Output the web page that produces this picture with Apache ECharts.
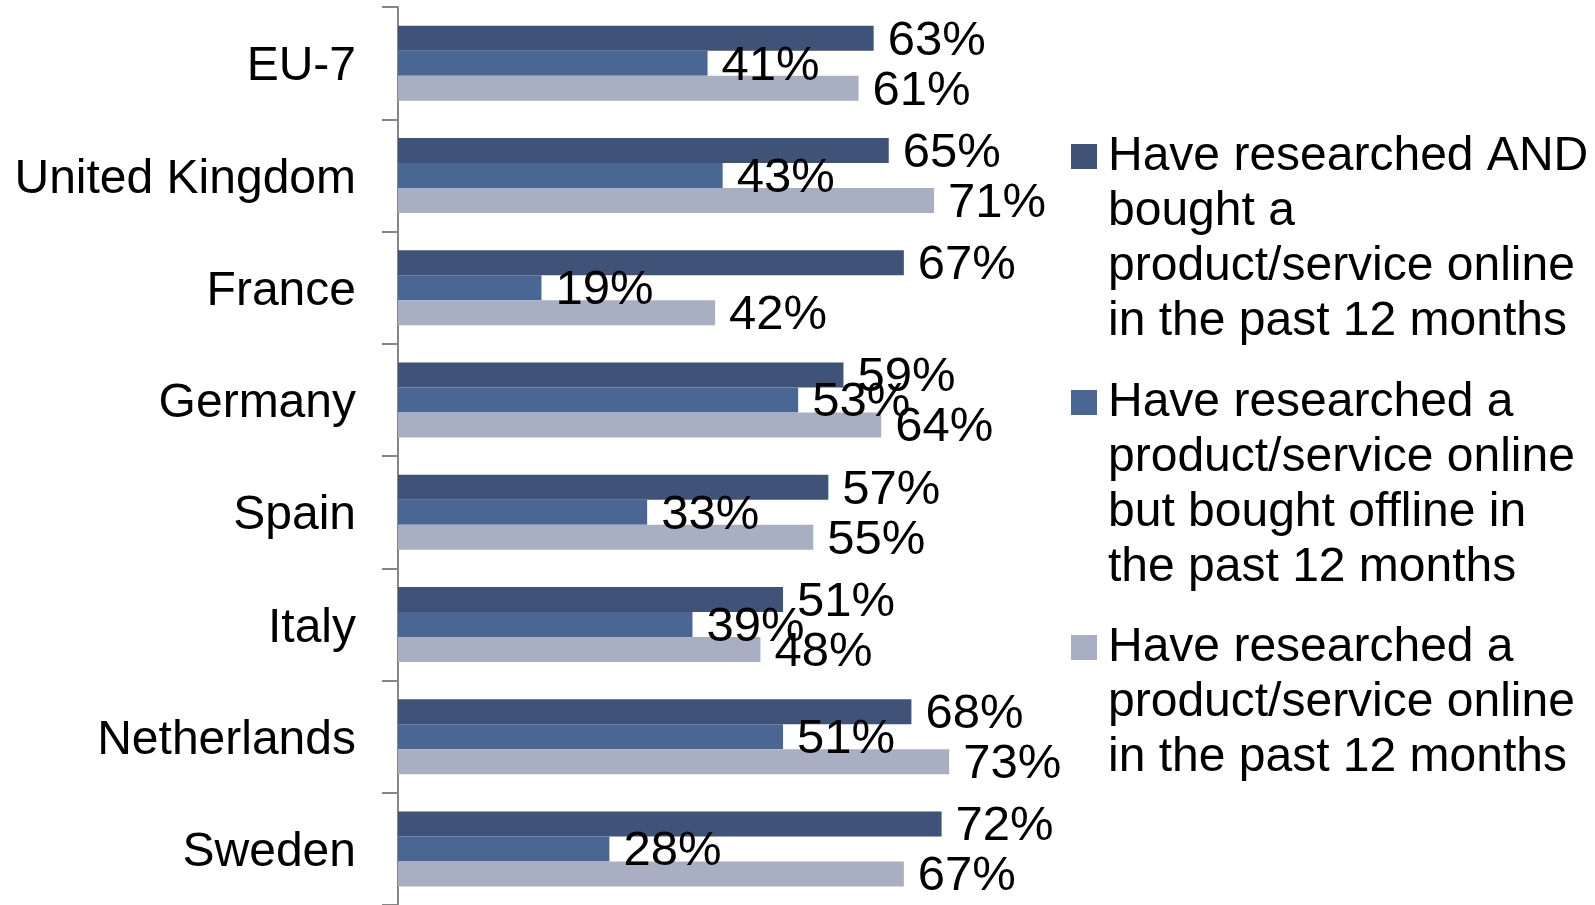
<!DOCTYPE html>
<html>
<head>
<meta charset="utf-8">
<script src="https://cdn.jsdelivr.net/npm/echarts@6/dist/echarts.min.js"></script>
<style>
html,body{margin:0;padding:0;background:#fff;}
#chart{width:1595px;height:905px;}
</style>
</head>
<body>
<div id="chart"></div>
<script>
var categories = ['EU-7', 'United Kingdom', 'France', 'Germany', 'Spain', 'Italy', 'Netherlands', 'Sweden'];
var seriesNames = [
  'Have researched AND\nbought a\nproduct/service online\nin the past 12 months',
  'Have researched a\nproduct/service online\nbut bought offline in\nthe past 12 months',
  'Have researched a\nproduct/service online\nin the past 12 months'
];
var researchedAndBought = [63, 65, 67, 59, 57, 51, 68, 72];
var researchedBoughtOffline = [41, 43, 19, 53, 33, 39, 51, 28];
var researchedOnline = [61, 71, 42, 64, 55, 48, 73, 67];
var seriesData = [researchedAndBought, researchedBoughtOffline, researchedOnline];
var colors = ['#3F5277', '#4A6692', '#A9AFC3'];

var FONT = "'Liberation Sans', Arial, sans-serif";
var FS = 48;

function iconPath(h) {
  return 'path://M0,0h0.05v0.05h-0.05z M0,15h26v25h-26z M25.95,' + (h - 0.05) + 'h0.05v0.05h-0.05z';
}
var legendTops = [125, 371, 616];
var legendHeights = [220, 220, 165];

var chart = echarts.init(document.getElementById('chart'), null, {renderer: 'canvas'});
var option = {
  animation: false,
  backgroundColor: '#ffffff',
  grid: {left: 398, top: 7, width: 755, height: 902, containLabel: false},
  xAxis: {
    type: 'value', min: 0, max: 100, show: false
  },
  yAxis: {
    type: 'category',
    data: categories,
    inverse: true,
    axisLine: {show: true, lineStyle: {color: '#868686', width: 2}},
    axisTick: {show: true, length: 16, lineStyle: {color: '#868686', width: 2}},
    axisLabel: {
      fontFamily: FONT, fontSize: FS, color: '#000', margin: 42,
      formatter: '{a|{value}}',
      rich: {a: {fontFamily: FONT, fontSize: FS, color: '#000', padding: [8, 0, 0, 0]}}
    }
  },
  legend: seriesNames.map(function (n, i) {
    return {
      data: [n],
      orient: 'vertical',
      left: 1071,
      top: legendTops[i],
      itemWidth: 26,
      itemHeight: legendHeights[i],
      icon: iconPath(legendHeights[i]),
      selectedMode: false,
      padding: 0,
      textStyle: {fontFamily: FONT, fontSize: FS, color: '#000', lineHeight: 55, padding: [8, 0, 0, 6]}
    };
  }),
  series: seriesNames.map(function (n, i) {
    return {
      name: n,
      type: 'bar',
      data: seriesData[i],
      barWidth: 25,
      barGap: '0%',
      itemStyle: {color: colors[i]},
      label: {
        show: true, position: 'right', distance: 14, offset: [0, 3],
        formatter: '{c}%', fontFamily: FONT, fontSize: 49, color: '#000'
      }
    };
  })
};
chart.setOption(option);
</script>
</body>
</html>
